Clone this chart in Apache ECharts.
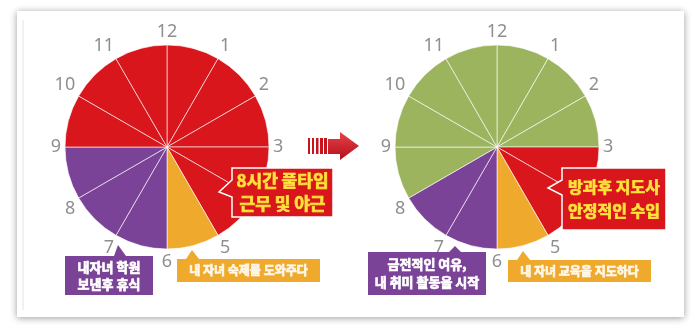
<!DOCTYPE html>
<html><head><meta charset="utf-8">
<script src="https://cdn.jsdelivr.net/npm/echarts@6/dist/echarts.min.js"></script>
<style>html,body{margin:0;padding:0;background:#fff}#c{width:700px;height:332px}</style>
</head><body><div id="c"></div>
<script>
// Data: one slice per clock hour (12→1, 1→2, ... 11→12)
const hourLabels = ['12','1','2','3','4','5','6','7','8','9','10','11'];
const hourValues = [1,1,1,1,1,1,1,1,1,1,1,1];
const beforeActivity = ['work','work','work','work','work','homework','rest','rest','rest','work','work','work'];
const afterActivity  = ['free','free','free','tutor','tutor','homework','hobby','hobby','free','free','free','free'];
const calloutsBefore = ['8시간 풀타임\n근무 및 야근', '내자녀 학원\n보낸후 휴식', '내 자녀 숙제를 도와주다'];
const calloutsAfter  = ['방과후 지도사\n안정적인 수입', '금전적인 여유,\n내 취미 활동을 시작', '내 자녀 교육을 지도하다'];

const RED='#d9161c', ORANGE='#efa92c', PURPLE='#7b4397', GREEN='#9db45f';
const colorMap = {work:RED, tutor:RED, homework:ORANGE, rest:PURPLE, hobby:PURPLE, free:GREEN};
const FONT = '"Noto Sans CJK KR", "Noto Sans", sans-serif';

function pieSeries(center, acts){
  return {
    type:'pie', center:center, radius:102, startAngle:90, clockwise:true,
    silent:true, label:{show:false}, labelLine:{show:false}, z:2,
    itemStyle:{borderColor:'rgba(255,255,255,0.6)', borderWidth:1},
    data: hourValues.map((v,i)=>({value:v, name:hourLabels[i], itemStyle:{color:colorMap[acts[i]]}}))
  };
}
function angleAx(idx){
  return {polarIndex:idx, type:'value', min:0, max:12, interval:1, startAngle:90, clockwise:true,
    axisLine:{show:false}, axisTick:{show:false}, splitLine:{show:false},
    axisLabel:{margin:4, color:'#8f8f8f', fontSize:18, fontFamily:'"Noto Sans", sans-serif',
      formatter:v=>hourLabels[v]===undefined?'':hourLabels[v]}};
}
function bubble(x,y,w,h,ptr,fill,stroke,text,tcolor,fs,lh){
  let pts;
  if(ptr.side==='left'){
    pts=[[x,y],[x+w,y],[x+w,y+h],[x,y+h],[x,ptr.b],[ptr.tx,ptr.ty],[x,ptr.a]];
  } else {
    pts=[[x,y],[ptr.a,y],[ptr.tx,ptr.ty],[ptr.b,y],[x+w,y],[x+w,y+h],[x,y+h]];
  }
  return [
    {type:'polygon', z:100, shape:{points:pts}, style:{fill:fill, stroke:stroke, lineWidth:stroke?1.5:0}},
    {type:'text', z:101, x:x+w/2, y:y+h/2, style:{text:text, fill:tcolor, stroke:tcolor, lineWidth:0.7,
      font:'bold '+fs+'px '+FONT, align:'center', verticalAlign:'middle', lineHeight:lh}}
  ];
}
const stripes = [[308,2],[312,2],[316,2.5],[320,3],[324,3]].map(s=>({type:'rect', z:5,
  shape:{x:s[0],y:138,width:s[1],height:16}, style:{fill:'#c8141c'}}));
const arrowGrad = new echarts.graphic.LinearGradient(0,0,0,1,[{offset:0,color:'#e8414a'},{offset:1,color:'#b2101a'}]);

const option = {
  animation:false,
  polar:[{center:[167,147], radius:102},{center:[497,147], radius:102}],
  angleAxis:[angleAx(0), angleAx(1)],
  radiusAxis:[{polarIndex:0, show:false},{polarIndex:1, show:false}],
  series:[pieSeries([167,147], beforeActivity), pieSeries([497,147], afterActivity)],
  graphic:[
    {type:'rect', z:0, shape:{x:17,y:11,width:667,height:306}, style:{fill:'#fff', shadowBlur:7, shadowColor:'rgba(0,0,0,0.4)', shadowOffsetY:1}},
    {type:'line', z:1, shape:{x1:23,y1:20,x2:23,y2:310}, style:{stroke:'#e2e2e2', lineWidth:1}},
    ...stripes,
    {type:'polygon', z:5, shape:{points:[[328,139],[340,139],[340,132],[359,146],[340,160],[340,154],[328,154]]}, style:{fill:arrowGrad}},
    ...bubble(232,168,101,49,{side:'left',a:180,b:197,tx:219,ty:192},RED,'#fff',calloutsBefore[0],'#ffe23a',17,23),
    ...bubble(65,256,88,39,{side:'top',a:114,b:126,tx:118,ty:245},PURPLE,null,calloutsBefore[1],'#fff',13,17),
    ...bubble(177,259,143,23,{side:'top',a:186,b:199,tx:192,ty:250},ORANGE,null,calloutsBefore[2],'#fff8ea',12,16),
    ...bubble(562,168,104,62,{side:'left',a:180,b:195,tx:548,ty:188},RED,'#fff',calloutsAfter[0],'#ffe23a',16,24),
    ...bubble(368,252,118,43,{side:'top',a:449,b:461,tx:455,ty:246},PURPLE,null,calloutsAfter[1],'#fff',13,18),
    ...bubble(508,260,143,22,{side:'top',a:517,b:530,tx:523,ty:251},ORANGE,null,calloutsAfter[2],'#fff8ea',12,16)
  ]
};
const chart = echarts.init(document.getElementById('c'), null, {renderer:'canvas'});
chart.setOption(option);
</script></body></html>
